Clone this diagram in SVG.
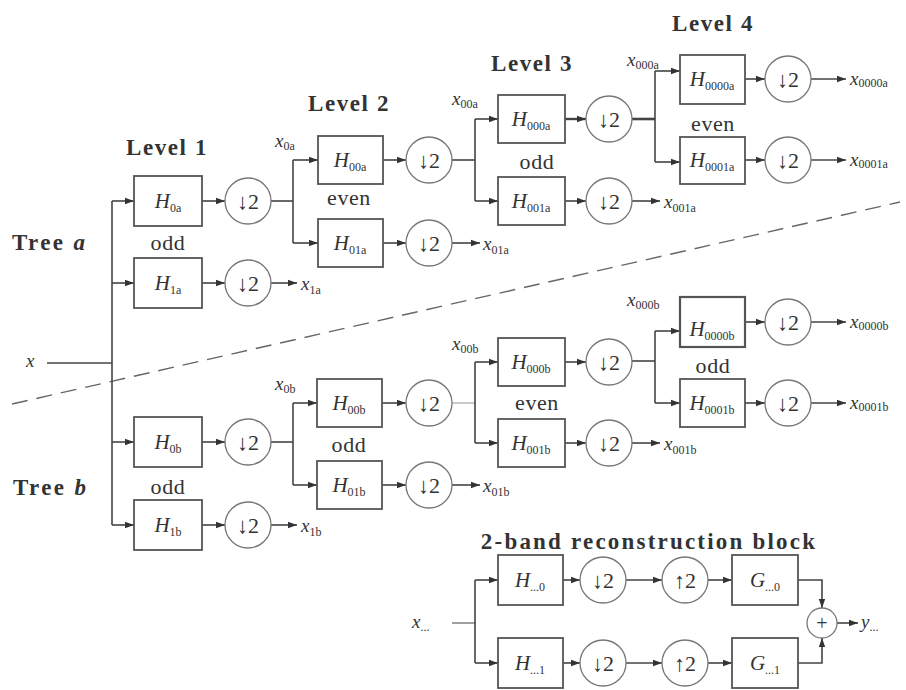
<svg xmlns="http://www.w3.org/2000/svg" width="906" height="690" viewBox="0 0 906 690">
<style>
text{font-family:"Liberation Serif","DejaVu Serif",serif;fill:#333}
.lvl{font-weight:bold;font-size:23px;letter-spacing:1.6px;text-anchor:middle}
.tree{font-weight:bold;font-size:23px;letter-spacing:2.4px}
.lab{font-size:22px;text-anchor:middle;letter-spacing:0.6px}
.h{font-style:italic;font-size:21px;text-anchor:middle}
.sub{font-size:12px;font-style:normal}
.x{font-style:italic;font-size:19px}
.d{font-size:22px;text-anchor:middle}
rect{fill:#fff;stroke:#555;stroke-width:1.8}
circle{fill:#fff;stroke:#777;stroke-width:1.3}
.c line,.c polyline{stroke:#444;stroke-width:1.6;fill:none}
.a{marker-end:url(#ar)}
.dash{stroke:#666;stroke-width:1.4;stroke-dasharray:16 9}
</style>
<defs>
<marker id="ar" markerUnits="userSpaceOnUse" markerWidth="10" markerHeight="8" refX="9" refY="4" orient="auto">
<path d="M0,0.8 L9,4 L0,7.2 z" fill="#333"/>
</marker>
</defs>

<g id="labels">
<text class="lvl" x="167" y="155">Level 1</text>
<text class="lvl" x="349" y="111">Level 2</text>
<text class="lvl" x="532" y="71">Level 3</text>
<text class="lvl" x="713" y="31">Level 4</text>
<text class="tree" x="12" y="250">Tree <tspan font-style="italic">a</tspan></text>
<text class="tree" x="13" y="495">Tree <tspan font-style="italic">b</tspan></text>
<text class="lab" x="168" y="250">odd</text>
<text class="lab" x="349" y="205">even</text>
<text class="lab" x="537" y="169">odd</text>
<text class="lab" x="713" y="131">even</text>
<text class="lab" x="168" y="494">odd</text>
<text class="lab" x="349" y="452">odd</text>
<text class="lab" x="537" y="410">even</text>
<text class="lab" x="713" y="373">odd</text>
<text class="lvl" x="649" y="549" style="letter-spacing:2.2px">2-band reconstruction block</text>
<text class="x" x="26" y="367">x</text>
<text class="x" x="275" y="147">x<tspan class="sub" dy="3">0a</tspan></text>
<text class="x" x="452" y="105">x<tspan class="sub" dy="3">00a</tspan></text>
<text class="x" x="627" y="66">x<tspan class="sub" dy="3">000a</tspan></text>
<text class="x" x="275" y="390">x<tspan class="sub" dy="3">0b</tspan></text>
<text class="x" x="452" y="350">x<tspan class="sub" dy="3">00b</tspan></text>
<text class="x" x="627" y="306">x<tspan class="sub" dy="3">000b</tspan></text>
<text class="x" x="301" y="290">x<tspan class="sub" dy="4">1a</tspan></text>
<text class="x" x="483" y="250">x<tspan class="sub" dy="4">01a</tspan></text>
<text class="x" x="664" y="208">x<tspan class="sub" dy="4">001a</tspan></text>
<text class="x" x="850" y="85">x<tspan class="sub" dy="2">0000a</tspan></text>
<text class="x" x="850" y="166">x<tspan class="sub" dy="2">0001a</tspan></text>
<text class="x" x="301" y="532">x<tspan class="sub" dy="4">1b</tspan></text>
<text class="x" x="483" y="492">x<tspan class="sub" dy="4">01b</tspan></text>
<text class="x" x="664" y="450">x<tspan class="sub" dy="4">001b</tspan></text>
<text class="x" x="850" y="328">x<tspan class="sub" dy="2">0000b</tspan></text>
<text class="x" x="850" y="409">x<tspan class="sub" dy="2">0001b</tspan></text>
<text class="x" x="412" y="628">x<tspan class="sub" dy="3">...</tspan></text>
<text class="x" x="861" y="628">y<tspan class="sub" dy="3">...</tspan></text>
</g>

<g id="divider"><line class="dash" x1="12" y1="404" x2="900" y2="202"/></g>

<g class="c" id="connectors">
<line x1="47" y1="363" x2="112" y2="363"/>
<line x1="112" y1="201" x2="112" y2="525"/>
<line class="a" x1="112" y1="201" x2="134" y2="201"/>
<line class="a" x1="112" y1="283" x2="134" y2="283"/>
<line class="a" x1="112" y1="442" x2="134" y2="442"/>
<line class="a" x1="112" y1="525" x2="134" y2="525"/>
<line class="a" x1="202" y1="201" x2="225" y2="201"/>
<line class="a" x1="202" y1="283" x2="225" y2="283"/>
<line class="a" x1="202" y1="442" x2="225" y2="442"/>
<line class="a" x1="202" y1="525" x2="225" y2="525"/>
<line class="a" x1="271" y1="283" x2="297" y2="283"/>
<line class="a" x1="271" y1="525" x2="297" y2="525"/>
<line x1="271" y1="201" x2="293" y2="201"/>
<line x1="293" y1="160" x2="293" y2="243"/>
<line class="a" x1="293" y1="160" x2="318" y2="160"/>
<line class="a" x1="293" y1="243" x2="318" y2="243"/>
<line class="a" x1="383" y1="160" x2="406" y2="160"/>
<line class="a" x1="383" y1="243" x2="406" y2="243"/>
<line class="a" x1="452" y1="243" x2="480" y2="243"/>
<line x1="452" y1="160" x2="475" y2="160"/>
<line x1="475" y1="119" x2="475" y2="201"/>
<line class="a" x1="475" y1="119" x2="498" y2="119"/>
<line class="a" x1="475" y1="201" x2="498" y2="201"/>
<line class="a" x1="565" y1="119" x2="586" y2="119" style="stroke-width:2.4"/>
<line class="a" x1="565" y1="201" x2="586" y2="201"/>
<line class="a" x1="632" y1="201" x2="660" y2="201"/>
<line x1="632" y1="119" x2="655" y2="119" style="stroke-width:2.6"/>
<line x1="655" y1="71" x2="655" y2="162"/>
<line class="a" x1="655" y1="71" x2="680" y2="71"/>
<line class="a" x1="655" y1="162" x2="680" y2="162"/>
<line class="a" x1="745" y1="79" x2="765" y2="79"/>
<line class="a" x1="745" y1="160" x2="765" y2="160"/>
<line class="a" x1="811" y1="79" x2="846" y2="79"/>
<line class="a" x1="811" y1="160" x2="846" y2="160"/>
<line x1="271" y1="442" x2="293" y2="442"/>
<line x1="293" y1="403" x2="293" y2="485"/>
<line class="a" x1="293" y1="403" x2="317" y2="403"/>
<line class="a" x1="293" y1="485" x2="317" y2="485"/>
<line class="a" x1="382" y1="403" x2="406" y2="403"/>
<line class="a" x1="382" y1="485" x2="406" y2="485"/>
<line class="a" x1="452" y1="485" x2="480" y2="485"/>
<line x1="452" y1="403" x2="475" y2="403" style="stroke-width:0.9;stroke:#888"/>
<line x1="475" y1="362" x2="475" y2="443"/>
<line class="a" x1="475" y1="362" x2="498" y2="362"/>
<line class="a" x1="475" y1="443" x2="498" y2="443"/>
<line class="a" x1="565" y1="362" x2="586" y2="362"/>
<line class="a" x1="565" y1="443" x2="586" y2="443"/>
<line class="a" x1="632" y1="443" x2="660" y2="443"/>
<line x1="632" y1="361" x2="655" y2="361"/>
<line x1="655" y1="331" x2="655" y2="403"/>
<line class="a" x1="655" y1="331" x2="680" y2="331"/>
<line class="a" x1="655" y1="403" x2="680" y2="403"/>
<line class="a" x1="745" y1="322" x2="765" y2="322"/>
<line class="a" x1="745" y1="403" x2="765" y2="403"/>
<line class="a" x1="811" y1="322" x2="846" y2="322"/>
<line class="a" x1="811" y1="403" x2="846" y2="403"/>
<line x1="452" y1="623" x2="475" y2="623" style="stroke:#888"/>
<line x1="475" y1="580" x2="475" y2="663"/>
<line class="a" x1="475" y1="580" x2="498" y2="580"/>
<line class="a" x1="475" y1="663" x2="498" y2="663"/>
<line class="a" x1="563" y1="580" x2="580" y2="580"/>
<line class="a" x1="563" y1="663" x2="580" y2="663"/>
<line class="a" x1="626" y1="580" x2="662" y2="580"/>
<line class="a" x1="626" y1="663" x2="662" y2="663"/>
<line class="a" x1="708" y1="580" x2="732" y2="580"/>
<line class="a" x1="708" y1="663" x2="732" y2="663"/>
<polyline class="a" points="798,580 822,580 822,608"/>
<polyline class="a" points="798,663 822,663 822,638"/>
<line class="a" x1="837" y1="623" x2="858" y2="623"/>
</g>

<g id="H0a"><rect x="134" y="176" width="68" height="50"/><text class="h" x="168" y="208">H<tspan class="sub" dy="4">0a</tspan></text></g>
<g id="D0a"><circle cx="248" cy="201" r="23"/><text class="d" x="248" y="209">↓2</text></g>
<g id="H1a"><rect x="134" y="258" width="68" height="50"/><text class="h" x="168" y="290">H<tspan class="sub" dy="4">1a</tspan></text></g>
<g id="D1a"><circle cx="248" cy="283" r="23"/><text class="d" x="248" y="291">↓2</text></g>
<g id="H0b"><rect x="134" y="417" width="68" height="50"/><text class="h" x="168" y="449">H<tspan class="sub" dy="4">0b</tspan></text></g>
<g id="D0b"><circle cx="248" cy="442" r="23"/><text class="d" x="248" y="450">↓2</text></g>
<g id="H1b"><rect x="134" y="500" width="68" height="50"/><text class="h" x="168" y="532">H<tspan class="sub" dy="4">1b</tspan></text></g>
<g id="D1b"><circle cx="248" cy="525" r="23"/><text class="d" x="248" y="533">↓2</text></g>

<g id="H00a"><rect x="318" y="136" width="65" height="48"/><text class="h" x="350" y="167">H<tspan class="sub" dy="4">00a</tspan></text></g>
<g id="D00a"><circle cx="429" cy="160" r="23"/><text class="d" x="429" y="168">↓2</text></g>
<g id="H01a"><rect x="318" y="219" width="65" height="48"/><text class="h" x="350" y="250">H<tspan class="sub" dy="4">01a</tspan></text></g>
<g id="D01a"><circle cx="429" cy="243" r="23"/><text class="d" x="429" y="251">↓2</text></g>
<g id="H000a"><rect x="498" y="95" width="67" height="48"/><text class="h" x="531" y="126">H<tspan class="sub" dy="4">000a</tspan></text></g>
<g id="D000a"><circle cx="609" cy="119" r="23"/><text class="d" x="609" y="127">↓2</text></g>
<g id="H001a"><rect x="498" y="177" width="67" height="48"/><text class="h" x="531" y="208">H<tspan class="sub" dy="4">001a</tspan></text></g>
<g id="D001a"><circle cx="609" cy="201" r="23"/><text class="d" x="609" y="209">↓2</text></g>
<g id="H0000a"><rect x="680" y="55" width="65" height="49"/><text class="h" x="712" y="86">H<tspan class="sub" dy="4">0000a</tspan></text></g>
<g id="D0000a"><circle cx="788" cy="79" r="23"/><text class="d" x="788" y="87">↓2</text></g>
<g id="H0001a"><rect x="680" y="137" width="65" height="47"/><text class="h" x="712" y="167">H<tspan class="sub" dy="4">0001a</tspan></text></g>
<g id="D0001a"><circle cx="788" cy="160" r="23"/><text class="d" x="788" y="168">↓2</text></g>

<g id="H00b"><rect x="317" y="379" width="65" height="48"/><text class="h" x="349" y="410">H<tspan class="sub" dy="4">00b</tspan></text></g>
<g id="D00b"><circle cx="429" cy="403" r="23"/><text class="d" x="429" y="411">↓2</text></g>
<g id="H01b"><rect x="317" y="461" width="65" height="48"/><text class="h" x="349" y="492">H<tspan class="sub" dy="4">01b</tspan></text></g>
<g id="D01b"><circle cx="429" cy="485" r="23"/><text class="d" x="429" y="493">↓2</text></g>
<g id="H000b"><rect x="498" y="338" width="67" height="48"/><text class="h" x="531" y="369">H<tspan class="sub" dy="4">000b</tspan></text></g>
<g id="D000b"><circle cx="609" cy="362" r="23"/><text class="d" x="609" y="370">↓2</text></g>
<g id="H001b"><rect x="498" y="419" width="67" height="48"/><text class="h" x="531" y="450">H<tspan class="sub" dy="4">001b</tspan></text></g>
<g id="D001b"><circle cx="609" cy="443" r="23"/><text class="d" x="609" y="451">↓2</text></g>
<g id="H0000b"><rect x="680" y="297" width="65" height="50" style="stroke-width:2.2"/><text class="h" x="712" y="336">H<tspan class="sub" dy="4">0000b</tspan></text></g>
<g id="D0000b"><circle cx="788" cy="322" r="23"/><text class="d" x="788" y="330">↓2</text></g>
<g id="H0001b"><rect x="680" y="379" width="65" height="48"/><text class="h" x="712" y="410">H<tspan class="sub" dy="4">0001b</tspan></text></g>
<g id="D0001b"><circle cx="788" cy="403" r="23"/><text class="d" x="788" y="411">↓2</text></g>

<g id="Hr0"><rect x="498" y="555" width="65" height="50"/><text class="h" x="530" y="587">H<tspan class="sub" dy="4">...0</tspan></text></g>
<g id="Dr0"><circle cx="603" cy="580" r="23"/><text class="d" x="603" y="588">↓2</text></g>
<g id="Ur0"><circle cx="685" cy="580" r="23"/><text class="d" x="685" y="588">↑2</text></g>
<g id="Gr0"><rect x="732" y="555" width="66" height="50"/><text class="h" x="765" y="587">G<tspan class="sub" dy="4">...0</tspan></text></g>
<g id="Hr1"><rect x="498" y="638" width="65" height="50"/><text class="h" x="530" y="670">H<tspan class="sub" dy="4">...1</tspan></text></g>
<g id="Dr1"><circle cx="603" cy="663" r="23"/><text class="d" x="603" y="671">↓2</text></g>
<g id="Ur1"><circle cx="685" cy="663" r="23"/><text class="d" x="685" y="671">↑2</text></g>
<g id="Gr1"><rect x="732" y="638" width="66" height="50"/><text class="h" x="765" y="670">G<tspan class="sub" dy="4">...1</tspan></text></g>
<g id="Sum"><circle cx="822" cy="623" r="15"/><text class="d" x="822" y="630" style="font-size:20px">+</text></g>
</svg>
